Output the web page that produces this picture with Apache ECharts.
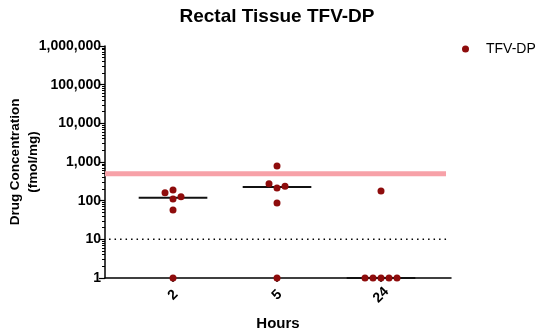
<!DOCTYPE html>
<html>
<head>
<meta charset="utf-8">
<script src="https://cdn.jsdelivr.net/npm/echarts@6/dist/echarts.min.js"></script>
<style>html,body{margin:0;padding:0;background:#fff}#c{width:550px;height:336px}</style>
</head>
<body>
<div id="c"></div>
<script>
// ---- data ----
const categories = ['2', '5', '24'];
const group2h = [189, 161, 127, 110, 57, 1];
const group5h = [788, 213, 275, 235, 87, 1];
const group24h = [178, 1, 1, 1, 1, 1];
const medians = [119, 224, 1];
const referenceLevel = 500;   // pink line
const lloq = 10;              // dotted line
const yTicks = [1, 10, 100, 1000, 10000, 100000, 1000000];
const seriesName = 'TFV-DP';

// ---- layout helpers ----
const FONT = 'Arial, "Liberation Sans", Helvetica, sans-serif';
const GRID = {left: 105, right: 99, top: 46, bottom: 58, outerBoundsMode: 'none', containLabel: false};
const X_MIN = -0.654, X_MAX = 2.673;
const plotW = 550 - GRID.left - GRID.right;
const plotH = 336 - GRID.top - GRID.bottom;
const pxPerX = plotW / (X_MAX - X_MIN);
const pxPerDecade = plotH / 6;
const MARK = 7, SEP = 8;

// simple beeswarm spread, computed in pixel space
function swarm(values, cx) {
  const placed = [];
  const out = [];
  values.forEach(v => {
    const py = Math.log10(v) * pxPerDecade;
    const tries = [0, -1, 1, -2, 2, -3, 3];
    for (const k of tries) {
      const px = k * SEP;
      const ok = placed.every(p => Math.hypot(p[0] - px, p[1] - py) >= SEP - 0.01);
      if (ok) { placed.push([px, py]); out.push([cx + px / pxPerX, v]); break; }
    }
  });
  return out;
}

const groups = [group2h, group5h, group24h];
let scatterData = [];
groups.forEach((g, i) => { scatterData = scatterData.concat(swarm(g, i)); });

const minorTicks = [];
for (let d = 0; d < 6; d++) for (let m = 2; m <= 9; m++) minorTicks.push(m * Math.pow(10, d));

const series = [
  {
    type: 'line', data: [[X_MIN, referenceLevel], [2.625, referenceLevel]],
    symbol: 'none', lineStyle: {color: '#f7a1a8', width: 5}, silent: true, z: 1
  },
  {
    type: 'line', data: [[-0.615, lloq], [2.66, lloq]],
    symbol: 'none', lineStyle: {color: '#000', width: 1.5, type: [1.5, 4]}, silent: true, z: 1
  }
];
medians.forEach((m, i) => {
  series.push({
    type: 'line', data: [[i - 0.33, m], [i + 0.33, m]], symbol: 'none',
    lineStyle: {color: '#111', width: 2}, silent: true, z: 2
  });
});
series.push({
  name: seriesName, type: 'scatter', data: scatterData, symbolSize: MARK,
  itemStyle: {color: '#8e0c0c', opacity: 1}, z: 5
});

const chart = echarts.init(document.getElementById('c'), null, {renderer: 'canvas'});
chart.setOption({
  animation: false,
  backgroundColor: '#fff',
  title: {
    text: 'Rectal Tissue TFV-DP', left: 272, top: 2, textAlign: 'center',
    textStyle: {fontFamily: FONT, fontWeight: 'bold', fontSize: 19, color: '#000'}
  },
  legend: {
    data: [{name: seriesName, icon: 'circle', itemStyle: {color: '#8e0c0c', opacity: 1}}],
    left: 457, top: 37, itemWidth: 7, itemHeight: 7, itemGap: 5,
    textStyle: {fontFamily: FONT, fontSize: 14, color: '#000', padding: [0, 0, 0, 12]}
  },
  grid: GRID,
  xAxis: {
    type: 'value', min: X_MIN, max: X_MAX,
    name: 'Hours', nameLocation: 'middle', nameGap: 38,
    nameTextStyle: {fontFamily: FONT, fontWeight: 'bold', fontSize: 15, color: '#000'},
    axisLine: {onZero: false, lineStyle: {color: '#000', width: 1.5}},
    axisTick: {show: true, length: 4, customValues: [0, 1, 2], lineStyle: {color: '#000', width: 1.5}},
    axisLabel: {
      customValues: [0, 1, 2], formatter: v => categories[Math.round(v)],
      rotate: 45, margin: 17, align: 'center', verticalAlign: 'middle',
      fontFamily: FONT, fontWeight: 'bold', fontSize: 14, color: '#000'
    },
    splitLine: {show: false}
  },
  yAxis: [
    {
      type: 'log', logBase: 10, min: 1, max: 1000000,
      name: 'Drug Concentration\n(fmol/mg)', nameLocation: 'middle', nameGap: 63, nameMoveOverlap: false,
      nameTextStyle: {fontFamily: FONT, fontWeight: 'bold', fontSize: 13.5, color: '#000', lineHeight: 18},
      axisLine: {show: true, onZero: false, lineStyle: {color: '#000', width: 1.5}},
      axisTick: {show: true, length: 6, customValues: yTicks, lineStyle: {color: '#000', width: 1.2}},
      axisLabel: {
        customValues: yTicks, margin: 4,
        formatter: v => Math.round(v).toLocaleString('en-US'),
        fontFamily: FONT, fontWeight: 'bold', fontSize: 14, color: '#000'
      },
      splitLine: {show: false}
    },
    {
      type: 'log', logBase: 10, min: 1, max: 1000000, position: 'left',
      axisLine: {show: false, onZero: false},
      axisTick: {show: true, length: 3, customValues: minorTicks, lineStyle: {color: '#000', width: 1}},
      axisLabel: {show: false},
      splitLine: {show: false}
    }
  ],
  series: series
});
</script>
</body>
</html>
